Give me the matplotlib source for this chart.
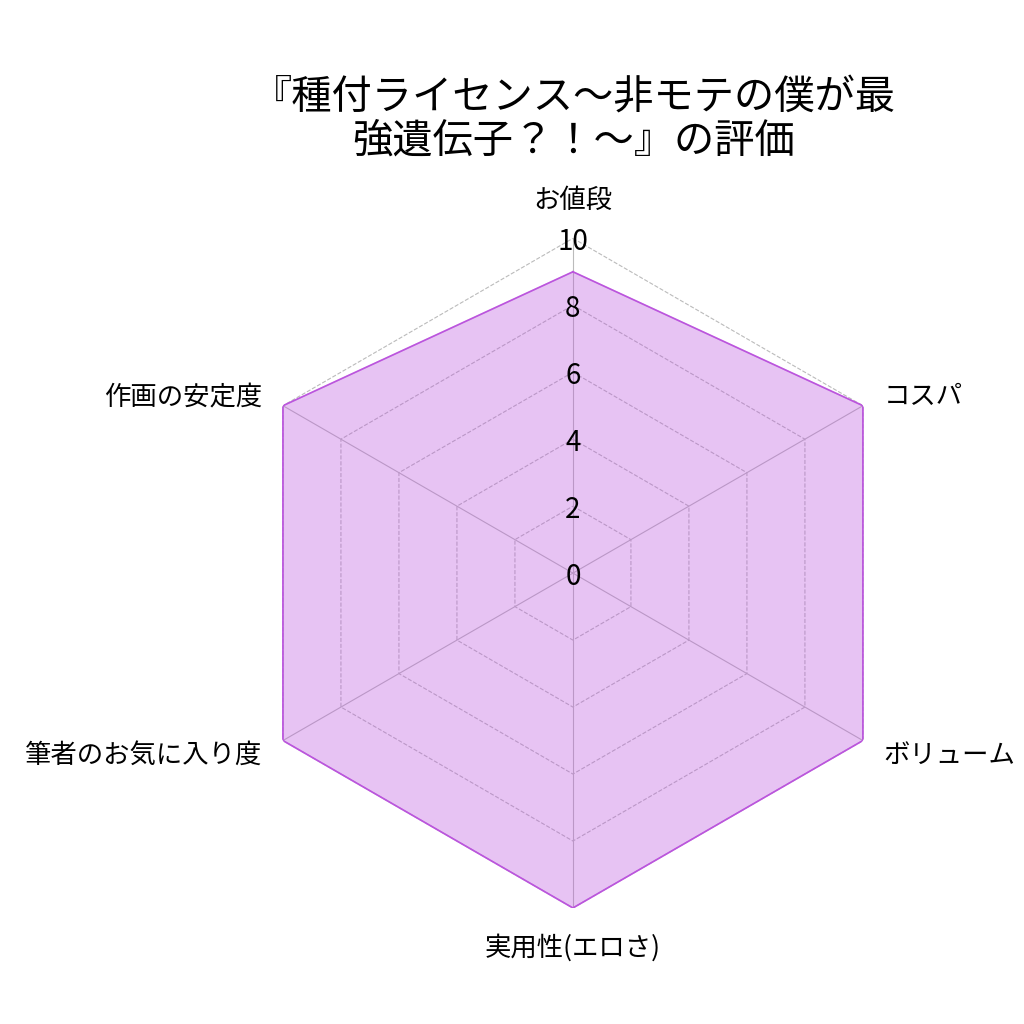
import numpy as np
import matplotlib
matplotlib.use('Agg')
import matplotlib.pyplot as plt

plt.rcParams['font.family'] = ['Noto Sans CJK JP', 'DejaVu Sans']

# data
title = '『種付ライセンス～非モテの僕が最\n強遺伝子？！～』の評価'
categories = ['お値段', 'コスパ', 'ボリューム', '実用性(エロさ)', '筆者のお気に入り度', '作画の安定度']
scores = [9, 10, 10, 10, 10, 10]
rticks = [0, 2, 4, 6, 8, 10]

color = '#bb55dd'

fig = plt.figure(figsize=(10.24, 10.24), dpi=100)
ax = fig.add_axes([0.2325, 0.1133, 0.654, 0.654], projection='polar')
ax.set_theta_zero_location('N')
ax.set_theta_direction(-1)
ax.set_ylim(0, 10)

n = len(categories)
angles = np.linspace(0, 2 * np.pi, n, endpoint=False)
closed = np.append(angles, angles[0])

# hide default frame/grid, draw hexagon grid underneath the fill
ax.spines['polar'].set_visible(False)
ax.grid(False)
ax.set_xticks([])
ax.set_yticks([])
ax.patch.set_visible(False)

for r in rticks[1:]:
    ax.plot(closed, [r] * (n + 1), color='#bbbbbb', lw=0.8, ls='--', zorder=0.5)
for a in angles:
    ax.plot([a, a], [0, 10], color='#bbbbbb', lw=0.8, zorder=0.5)

vals = scores + scores[:1]
ax.fill(closed, vals, color=color, alpha=0.35, zorder=1)
ax.plot(closed, vals, color=color, lw=1.2, zorder=2)

for r in rticks:
    ax.text(0, r, str(r), ha='center', va='center_baseline', fontsize=20, zorder=3)

# category labels
for a, lab in zip(angles, categories):
    deg = np.degrees(a)
    if np.isclose(deg, 0):
        ax.text(a, 11.12, lab, ha='center', va='center', fontsize=19)
    elif np.isclose(deg, 180):
        ax.text(a, 11.2, lab, ha='center', va='center', fontsize=19)
    elif deg < 180:
        ax.text(a, 10.72, lab, ha='left', va='center_baseline', fontsize=19)
    else:
        ax.text(a, 10.72, lab, ha='right', va='center_baseline', fontsize=19)

fig.text(0.56, 0.884, title, ha='center', va='center', fontsize=29, linespacing=1.1)

fig.savefig('out.png', dpi=100)
